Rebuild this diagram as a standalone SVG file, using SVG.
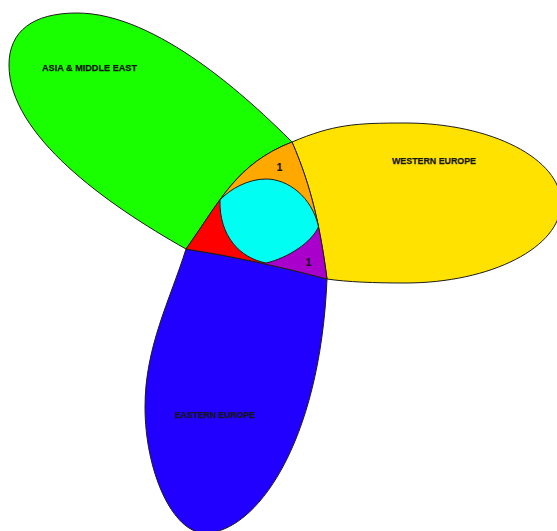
<svg xmlns="http://www.w3.org/2000/svg" width="557" height="531" viewBox="0 0 557 531">
<style>
.o{stroke:#1c1c1c;stroke-width:1;stroke-linejoin:round}
.lbl{font-family:"Liberation Sans",Arial,sans-serif;font-weight:bold;font-size:9.5px;fill:#161616;stroke:#161616;stroke-width:0.25}
.num{font-family:"Liberation Sans",Arial,sans-serif;font-weight:bold;font-size:10px;fill:#161616;stroke:#161616;stroke-width:0.2;text-anchor:middle}
</style>
<defs>
<path id="T" d="M186,249 C221,200 236,164 292,142 C312,188 320.5,229.5 327,279 Q256,260 186,249 Z"/>
<clipPath id="tc"><use href="#T"/></clipPath>
</defs>
<rect width="557" height="531" fill="#ffffff"/>
<g id="asia">
<path class="o" fill="#1aff00" d="M292,142 C250,100 157,13 77,13 C33,13 9,31 9,65 C9,135 106,204 186,249 C221,200 236,164 292,142 Z"/>
<text class="lbl" x="42" y="71" textLength="95" lengthAdjust="spacingAndGlyphs">ASIA &amp; MIDDLE EAST</text>
</g>
<g id="western">
<path class="o" fill="#ffe200" d="M292,142 C333.4,124.5 355,123 405,123 C491.1,123 561,158.8 561,203 C561,247.2 491.1,283 405,283 C375,283 347,282 327,279 C320.5,229.5 312,188 292,142 Z"/>
<text class="lbl" x="392" y="163.5" textLength="84" lengthAdjust="spacingAndGlyphs">WESTERN EUROPE</text>
</g>
<g id="eastern">
<path class="o" fill="#2200ff" d="M327,279 C320,445 255,533 205,533 C172,533 145,470 145,407 C145,347 170,300 186,249 Q256,260 327,279 Z"/>
<text class="lbl" x="175" y="417.5" textLength="80" lengthAdjust="spacingAndGlyphs">EASTERN EUROPE</text>
</g>
<g id="overlaps">
<g clip-path="url(#tc)">
<use href="#T" fill="#ff0000"/>
<polygon id="asia-western" fill="#ffa800" points="150,181 400,249 400,100 150,100"/>
<polygon id="western-eastern" fill="#aa00cc" points="400,170.4 200,308.6 200,400 400,400"/>
</g>
<use href="#T" class="o" fill="none"/>
<path id="all-three" class="o" fill="#00fff2" d="M220,200 C230,189 248,179 266,179 C288,179 312,197 318.5,226.7 C312,242 288,258 266,263 C240,258 219,236 220,200 Z"/>
<text class="num" x="279.5" y="171">1</text>
<text class="num" x="308.5" y="265.5">1</text>
</g>
<g id="connectors"/>
</svg>
